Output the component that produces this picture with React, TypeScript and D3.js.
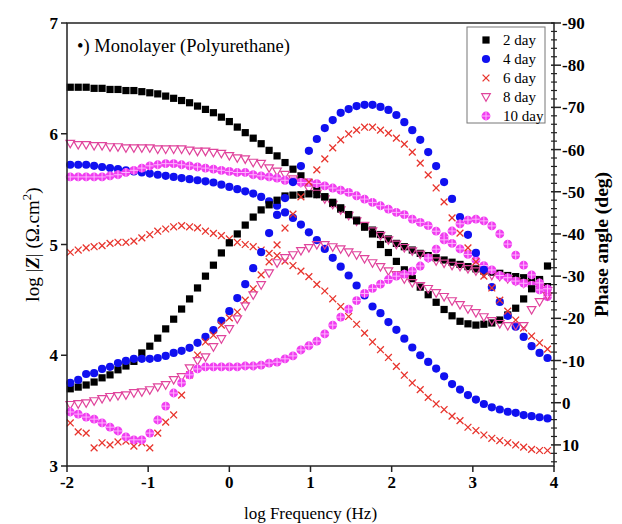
import React from "react";
import * as d3 from "d3";

// log10 frequency (Hz) of each measured point
const logFreq = [
  -1.96, -1.862, -1.764, -1.666, -1.568, -1.47, -1.372, -1.274, -1.176, -1.078,
  -0.98, -0.882, -0.784, -0.686, -0.588, -0.49, -0.392, -0.294, -0.196, -0.098,
  0, 0.098, 0.196, 0.294, 0.392, 0.49, 0.588, 0.686, 0.784, 0.882,
  0.98, 1.078, 1.176, 1.274, 1.372, 1.47, 1.568, 1.666, 1.764, 1.862,
  1.96, 2.058, 2.156, 2.254, 2.352, 2.45, 2.548, 2.646, 2.744, 2.842,
  2.94, 3.038, 3.136, 3.234, 3.332, 3.43, 3.528, 3.626, 3.724, 3.822, 3.92,
];

// log |Z| (left axis)
const z2day = [
  6.42, 6.42, 6.42, 6.41, 6.41, 6.40, 6.40, 6.39, 6.39, 6.38,
  6.37, 6.36, 6.34, 6.32, 6.30, 6.28, 6.25, 6.22, 6.19, 6.15,
  6.11, 6.06, 6.01, 5.96, 5.91, 5.85, 5.80, 5.74, 5.68, 5.62,
  5.56, 5.49, 5.43, 5.37, 5.32, 5.27, 5.22, 5.17, 5.13, 5.09,
  5.05, 5.01, 4.98, 4.95, 4.92, 4.90, 4.88, 4.86, 4.84, 4.82,
  4.80, 4.78, 4.76, 4.75, 4.74, 4.72, 4.71, 4.70, 4.69, 4.67, 4.62,
];
const z4day = [
  5.72, 5.72, 5.72, 5.71, 5.70, 5.69, 5.68, 5.67, 5.66, 5.65,
  5.64, 5.63, 5.62, 5.61, 5.60, 5.59, 5.58, 5.57, 5.56, 5.54,
  5.52, 5.50, 5.48, 5.46, 5.43, 5.39, 5.35, 5.29, 5.24, 5.18,
  5.11, 5.04, 4.96, 4.88, 4.80, 4.72, 4.63, 4.54, 4.44, 4.38,
  4.30, 4.23, 4.15, 4.07, 4.00, 3.94, 3.88, 3.81, 3.74, 3.69,
  3.64, 3.60, 3.56, 3.53, 3.51, 3.49, 3.48, 3.46, 3.45, 3.44, 3.43,
];
const z6day = [
  4.93, 4.95, 4.97, 4.98, 4.99, 5.01, 5.02, 5.02, 5.03, 5.06,
  5.09, 5.12, 5.14, 5.16, 5.17, 5.16, 5.15, 5.12, 5.10, 5.08,
  5.05, 5.02, 5.00, 4.98, 4.95, 4.92, 4.90, 4.85, 4.81, 4.76,
  4.71, 4.64, 4.58, 4.51, 4.44, 4.35, 4.28, 4.20, 4.12, 4.05,
  3.98, 3.90, 3.82, 3.75, 3.69, 3.62, 3.56, 3.51, 3.45, 3.41,
  3.35, 3.32, 3.28, 3.25, 3.23, 3.21, 3.19, 3.17, 3.15, 3.14, 3.14,
];
const z8day = [
  5.91, 5.90, 5.90, 5.89, 5.89, 5.88, 5.88, 5.87, 5.87, 5.87,
  5.87, 5.86, 5.86, 5.86, 5.86, 5.85, 5.84, 5.84, 5.83, 5.82,
  5.80, 5.78, 5.77, 5.74, 5.73, 5.69, 5.66, 5.63, 5.59, 5.56,
  5.50, 5.46, 5.41, 5.36, 5.31, 5.26, 5.21, 5.17, 5.12, 5.08,
  5.04, 5.00, 4.97, 4.94, 4.91, 4.88, 4.85, 4.83, 4.81, 4.80,
  4.78, 4.76, 4.74, 4.72, 4.71, 4.69, 4.67, 4.65, 4.63, 4.61, 4.58,
];
const z10day = [
  5.61, 5.61, 5.61, 5.61, 5.61, 5.62, 5.63, 5.65, 5.67, 5.69,
  5.71, 5.72, 5.73, 5.73, 5.72, 5.71, 5.70, 5.69, 5.68, 5.67,
  5.66, 5.65, 5.65, 5.63, 5.62, 5.61, 5.60, 5.58, 5.57, 5.56,
  5.56, 5.55, 5.53, 5.51, 5.49, 5.47, 5.44, 5.41, 5.38, 5.35,
  5.32, 5.29, 5.27, 5.23, 5.20, 5.17, 5.12, 5.07, 5.01, 4.96,
  4.91, 4.86, 4.81, 4.77, 4.72, 4.70, 4.67, 4.65, 4.63, 4.59, 4.53,
];

// phase angle in degrees (right axis)
const ph2day = [
  -3.3, -3.7, -4.2, -4.9, -5.9, -6.6, -7.8, -8.7, -9.8, -11.8,
  -13.4, -15.3, -17.5, -19.8, -22.2, -24.6, -27.2, -30.0, -32.6, -35.5,
  -37.9, -40.0, -42.1, -44.0, -45.7, -46.9, -48.0, -49.0, -49.2, -49.3,
  -49.5, -49.3, -48.8, -47.5, -46.2, -44.6, -43.1, -41.6, -40.0, -37.5,
  -35.6, -33.5, -31.5, -29.4, -27.4, -25.6, -23.8, -22.1, -20.6, -19.3,
  -18.7, -18.4, -18.6, -18.9, -19.6, -20.8, -22.4, -24.6, -27.0, -29.2, -32.4,
];
const ph4day = [
  -4.7, -5.4, -6.8, -7.0, -8.0, -8.5, -9.4, -9.9, -10.4, -10.4,
  -10.4, -10.6, -11.1, -11.8, -12.3, -13.0, -14.2, -15.6, -17.2, -19.4,
  -21.7, -24.8, -28.1, -31.9, -35.7, -40.2, -44.5, -48.5, -52.3, -56.1,
  -59.7, -62.5, -65.1, -67.0, -68.7, -69.6, -70.3, -70.6, -70.6, -70.1,
  -69.4, -68.2, -66.5, -64.6, -62.3, -59.4, -56.1, -52.3, -48.3, -44.0,
  -39.8, -35.5, -31.5, -27.4, -23.9, -20.6, -18.0, -15.6, -13.4, -11.8, -10.6,
];
const ph6day = [
  4.8, 6.9, 7.2, 10.7, 9.5, 10.0, 9.3, 9.1, 10.3, 9.5,
  10.7, 7.2, 4.6, 2.9, -1.8, -6.6, -11.3, -14.4, -16.0, -18.4,
  -20.1, -21.5, -24.3, -27.0, -30.3, -33.4, -37.4, -41.4, -44.7, -48.8,
  -52.3, -55.2, -57.8, -60.4, -62.3, -63.7, -64.6, -65.3, -65.3, -64.6,
  -63.9, -62.7, -61.3, -59.4, -56.8, -54.0, -50.9, -47.6, -43.8, -40.2,
  -36.7, -33.4, -30.0, -27.2, -24.3, -21.7, -19.6, -17.7, -15.8, -14.2, -12.7,
];
const ph8day = [
  0.5, 0.3, 0.1, -0.4, -0.9, -1.4, -1.6, -1.8, -2.3, -2.5,
  -3.0, -3.7, -4.2, -5.4, -6.1, -8.2, -9.9, -10.8, -13.2, -15.1,
  -17.5, -19.8, -22.9, -25.5, -27.9, -30.7, -33.1, -34.3, -35.0, -36.0,
  -36.7, -37.4, -37.4, -36.9, -36.4, -35.7, -35.0, -34.1, -33.1, -32.2,
  -31.2, -30.3, -29.3, -28.4, -27.7, -27.0, -26.0, -25.1, -24.1, -23.2,
  -22.2, -21.3, -20.3, -19.4, -18.7, -18.2, -18.2, -18.2, -22.0, -23.9, -25.3,
];
const ph10day = [
  2.2, 2.7, 3.4, 3.9, 4.8, 5.8, 6.7, 8.1, 8.8, 8.8,
  7.2, 4.1, 0.8, -2.3, -4.7, -6.6, -8.0, -8.5, -8.5, -8.5,
  -8.5, -8.5, -8.7, -8.7, -8.9, -9.4, -9.6, -10.4, -11.1, -12.5,
  -13.5, -14.6, -16.3, -18.4, -20.3, -22.2, -24.2, -25.9, -27.1, -28.1,
  -29.2, -30.0, -30.5, -31.2, -32.4, -34.3, -36.4, -38.6, -40.7, -42.4,
  -43.3, -43.5, -43.1, -41.9, -40.0, -37.6, -35.0, -32.6, -30.3, -28.4, -27.0,
];

const seriesNames = ["2 day", "4 day", "6 day", "8 day", "10 day"];
const xTicks = [-2, -1, 0, 1, 2, 3, 4];
const zTicks = [3, 4, 5, 6, 7];
const phTicks = [-90, -80, -70, -60, -50, -40, -30, -20, -10, 0, 10];

const FONT = "'Liberation Serif', 'Times New Roman', serif";

type Kind = "square" | "circle" | "cross" | "tri" | "circplus";
const kinds: Kind[] = ["square", "circle", "cross", "tri", "circplus"];
const colors = ["#000000", "#1010f0", "#e8352e", "#e0449c", "#f03cf0"];

function Marker({ kind, cx, cy, color }: { kind: Kind; cx: number; cy: number; color: string }) {
  if (kind === "square")
    return <rect x={cx - 3.6} y={cy - 3.6} width={7.2} height={7.2} fill={color} />;
  if (kind === "circle") return <circle cx={cx} cy={cy} r={4.1} fill={color} />;
  if (kind === "cross")
    return (
      <path
        d={`M${cx - 3.4},${cy - 3.4}L${cx + 3.4},${cy + 3.4}M${cx - 3.4},${cy + 3.4}L${cx + 3.4},${cy - 3.4}`}
        stroke={color}
        strokeWidth={1.3}
        fill="none"
      />
    );
  if (kind === "tri")
    return (
      <path
        d={`M${cx - 4.3},${cy - 3.3}L${cx + 4.3},${cy - 3.3}L${cx},${cy + 4.2}Z`}
        stroke={color}
        strokeWidth={1.2}
        fill="none"
      />
    );
  return (
    <g>
      <circle cx={cx} cy={cy} r={4.4} fill={color} />
      <path
        d={`M${cx - 4.4},${cy}L${cx + 4.4},${cy}M${cx},${cy - 4.4}L${cx},${cy + 4.4}`}
        stroke="#ffb4ff"
        strokeWidth={1}
      />
    </g>
  );
}

export default function App() {
  const W = 622;
  const H = 524;
  const left = 67;
  const right = 554;
  const top = 23;
  const bottom = 466;

  const x = d3.scaleLinear().domain([-2, 4]).range([left, right]);
  const yZ = d3.scaleLinear().domain([3, 7]).range([bottom, top]);
  const yP = d3.scaleLinear().domain([15, -90]).range([bottom, top]);

  const zSeries = [z2day, z4day, z6day, z8day, z10day];
  const pSeries = [ph2day, ph4day, ph6day, ph8day, ph10day];

  const minorPh = d3.range(-90, 15, 2).filter((v) => v % 10 !== 0);

  return (
    <svg
      width={W}
      height={H}
      style={{ position: "absolute", left: 0, top: 0, background: "#fff" }}
      fontFamily={FONT}
    >
      <rect x={0} y={0} width={W} height={H} fill="#fff" />

      {/* data */}
      {zSeries.map((arr, si) => (
        <g key={"z" + si}>
          {arr.map((v, i) => (
            <Marker key={i} kind={kinds[si]} color={colors[si]} cx={x(logFreq[i])} cy={yZ(v)} />
          ))}
        </g>
      ))}
      {pSeries.map((arr, si) => (
        <g key={"p" + si}>
          {arr.map((v, i) => (
            <Marker key={i} kind={kinds[si]} color={colors[si]} cx={x(logFreq[i])} cy={yP(v)} />
          ))}
        </g>
      ))}

      {/* frame */}
      <rect x={left} y={top} width={right - left} height={bottom - top} fill="none" stroke="#222" strokeWidth={1.5} />

      {/* bottom axis */}
      {xTicks.map((t) => (
        <g key={"xt" + t}>
          <line x1={x(t)} x2={x(t)} y1={bottom} y2={bottom + 6} stroke="#222" strokeWidth={1.5} />
          <text x={x(t)} y={bottom + 22} textAnchor="middle" fontSize={17} fontWeight="bold">
            {t}
          </text>
        </g>
      ))}
      <text x={(left + right) / 2} y={519} textAnchor="middle" fontSize={17}>
        log Frequency (Hz)
      </text>

      {/* left axis */}
      {zTicks.map((t) => (
        <g key={"zt" + t}>
          <line x1={left - 6} x2={left} y1={yZ(t)} y2={yZ(t)} stroke="#222" strokeWidth={1.5} />
          <text x={left - 9} y={yZ(t) + 6} textAnchor="end" fontSize={17} fontWeight="bold">
            {t}
          </text>
        </g>
      ))}
      <text transform={`translate(39,${(top + bottom) / 2}) rotate(-90)`} textAnchor="middle" fontSize={19}>
        log |<tspan fontStyle="italic" fontWeight="bold">Z</tspan>| (Ω.cm
        <tspan dy={-8} fontSize={13}>2</tspan>
        <tspan dy={8}>)</tspan>
      </text>

      {/* right axis */}
      {minorPh.map((t) => (
        <line key={"mp" + t} x1={right - 3} x2={right + 3} y1={yP(t)} y2={yP(t)} stroke="#222" strokeWidth={1.2} />
      ))}
      {phTicks.map((t) => (
        <g key={"pt" + t}>
          <line x1={right - 3} x2={right + 7} y1={yP(t)} y2={yP(t)} stroke="#222" strokeWidth={1.5} />
          <text x={right + 8} y={yP(t) + 6} textAnchor="start" fontSize={17} fontWeight="bold">
            {t}
          </text>
        </g>
      ))}
      <text
        transform={`translate(608,${(top + bottom) / 2}) rotate(-90)`}
        textAnchor="middle"
        fontSize={19.5}
        fontWeight="bold"
      >
        Phase angle (deg)
      </text>

      {/* annotation */}
      <text x={77} y={52} fontSize={18.5}>
        •) Monolayer (Polyurethane)
      </text>

      {/* legend */}
      <rect x={467} y={27} width={78} height={96} fill="#fff" stroke="#777" strokeWidth={1} />
      {seriesNames.map((name, i) => {
        const cy = 40 + i * 19;
        return (
          <g key={name}>
            <Marker kind={kinds[i]} color={colors[i]} cx={486} cy={cy} />
            <text x={503} y={cy + 5} fontSize={15}>
              {name}
            </text>
          </g>
        );
      })}
    </svg>
  );
}
